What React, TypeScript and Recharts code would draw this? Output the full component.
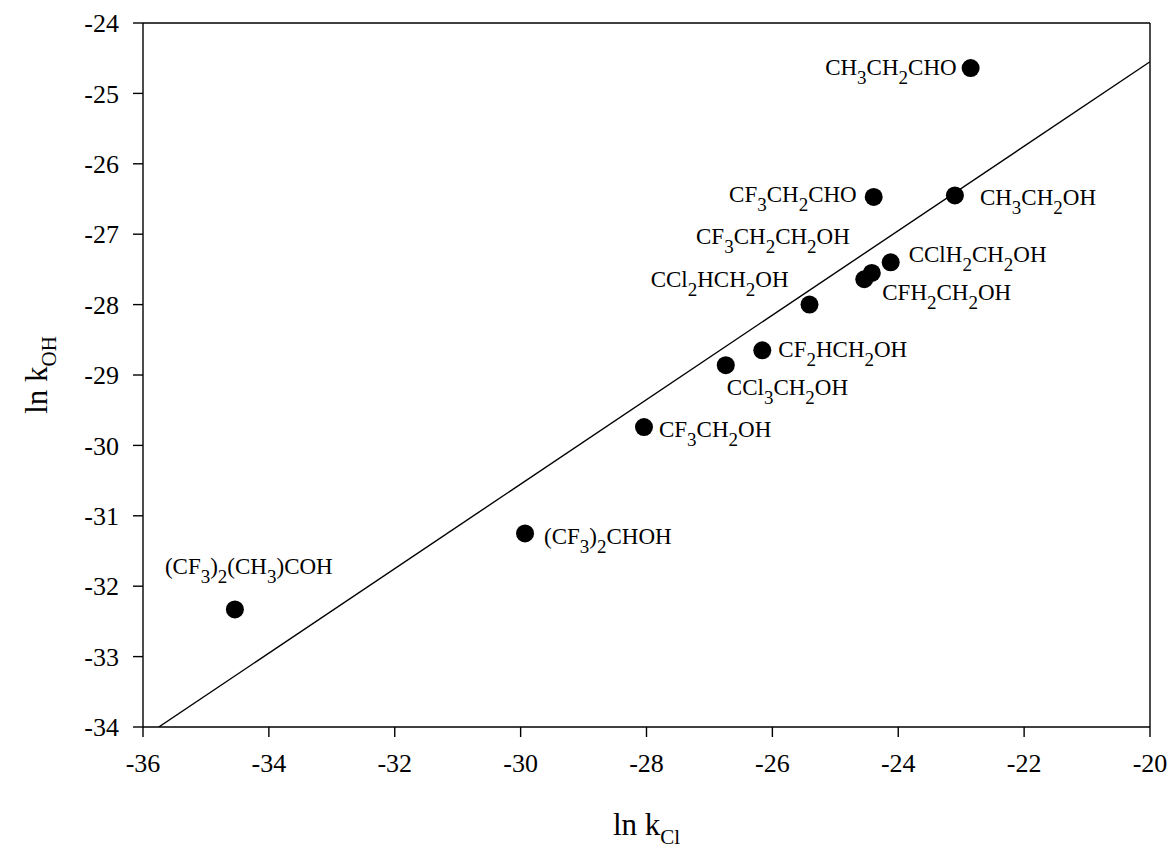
import React from 'react';
import { ScatterChart, Scatter, XAxis, YAxis, ReferenceLine } from 'recharts';

// compounds, "_3" means subscript 3
const compounds = [
  'CH_3CH_2CHO', 'CF_3CH_2CHO', 'CH_3CH_2OH', 'CClH_2CH_2OH', 'CF_3CH_2CH_2OH', 'CFH_2CH_2OH',
  'CCl_2HCH_2OH', 'CF_2HCH_2OH', 'CCl_3CH_2OH', 'CF_3CH_2OH', '(CF_3)_2CHOH', '(CF_3)_2(CH_3)COH',
];
const lnKCl = [-22.85, -24.39, -23.1, -24.12, -24.42, -24.54, -25.41, -26.16, -26.74, -28.04, -29.93, -34.54];
const lnKOH = [-24.64, -26.47, -26.45, -27.4, -27.55, -27.64, -28.0, -28.65, -28.86, -29.74, -31.25, -32.33];

// regression line end points
const fitX = [-35.75, -20];
const fitY = [-34, -24.55];

const xTicks = [-36, -34, -32, -30, -28, -26, -24, -22, -20];
const yTicks = [-34, -33, -32, -31, -30, -29, -28, -27, -26, -25, -24];

// where each label sits relative to its point
const labelPlacement: { dx: number; dy: number; anchor: 'start' | 'end' }[] = [
  { dx: -14, dy: 7, anchor: 'end' },
  { dx: -17, dy: 5, anchor: 'end' },
  { dx: 25, dy: 10, anchor: 'start' },
  { dx: 18, dy: 0, anchor: 'start' },
  { dx: -22, dy: -29, anchor: 'end' },
  { dx: 18, dy: 21, anchor: 'start' },
  { dx: -21, dy: -18, anchor: 'end' },
  { dx: 16, dy: 7, anchor: 'start' },
  { dx: 1, dy: 30, anchor: 'start' },
  { dx: 15, dy: 10, anchor: 'start' },
  { dx: 19, dy: 11, anchor: 'start' },
  { dx: -70, dy: -35, anchor: 'start' },
];

const points = compounds.map((name, i) => ({ name, idx: i, x: lnKCl[i], y: lnKOH[i] }));
const fitData = fitX.map((x, i) => ({ x, y: fitY[i] }));

const FONT = '"Liberation Serif", "Times New Roman", serif';

const Formula = ({ text, size, subSize, shift }: { text: string; size: number; subSize: number; shift: number }) => {
  const parts = text.split(/_(\d)/);
  return (
    <>
      {parts.map((p, i) => {
        if (p === '' && i % 2 === 0 && i === parts.length - 1) return null;
        if (i % 2 === 1) {
          return <tspan key={i} dy={shift} fontSize={subSize}>{p}</tspan>;
        }
        return <tspan key={i} dy={i === 0 ? 0 : -shift} fontSize={size}>{p}</tspan>;
      })}
    </>
  );
};

const PointShape = (props: any) => {
  const { cx, cy, payload } = props;
  const place = labelPlacement[payload.idx];
  return (
    <g>
      <circle cx={cx} cy={cy} r={9} fill="#000" />
      <text x={cx + place.dx} y={cy + place.dy} textAnchor={place.anchor} fontFamily={FONT} fontSize={23} fill="#000">
        <Formula text={payload.name} size={23} subSize={19} shift={9} />
      </text>
    </g>
  );
};

const XTitle = (props: any) => {
  const { viewBox } = props;
  const cx = viewBox.x + viewBox.width / 2;
  return (
    <text x={cx} y={835} textAnchor="middle" fontFamily={FONT} fontSize={31} fill="#000">
      <tspan>ln k</tspan>
      <tspan dy={9} fontSize={21}>Cl</tspan>
    </text>
  );
};

const YTitle = (props: any) => {
  const { viewBox } = props;
  const cy = viewBox.y + viewBox.height / 2;
  return (
    <text x={47} y={cy} transform={`rotate(-90, 47, ${cy})`} textAnchor="middle" fontFamily={FONT} fontSize={31} fill="#000">
      <tspan>ln k</tspan>
      <tspan dy={9} fontSize={21}>OH</tspan>
    </text>
  );
};

const tickStyle = { fill: '#000', fontSize: 26, fontFamily: FONT };

export default function App() {
  return (
    <div style={{ position: 'absolute', left: 0, top: 0, background: '#fff' }}>
      <ScatterChart width={1174} height={851} margin={{ top: 23, right: 24, left: 0, bottom: 0 }}>
        <XAxis
          type="number"
          dataKey="x"
          domain={[-36, -20]}
          ticks={xTicks}
          allowDataOverflow
          height={124}
          tickSize={10}
          tickMargin={17}
          tick={tickStyle}
          axisLine={{ stroke: '#000', strokeWidth: 1.4 }}
          tickLine={{ stroke: '#000', strokeWidth: 1.4 }}
          label={{ content: (p: any) => <XTitle {...p} /> }}
        />
        <YAxis
          type="number"
          dataKey="y"
          domain={[-34, -24]}
          ticks={yTicks}
          allowDataOverflow
          width={143}
          tickSize={10}
          tickMargin={14}
          tick={tickStyle}
          axisLine={{ stroke: '#000', strokeWidth: 1.4 }}
          tickLine={{ stroke: '#000', strokeWidth: 1.4 }}
          label={{ content: (p: any) => <YTitle {...p} /> }}
        />
        <ReferenceLine y={-24} stroke="#000" strokeWidth={1.4} />
        <ReferenceLine x={-20} stroke="#000" strokeWidth={1.4} />
        <Scatter
          data={fitData}
          line={{ stroke: '#000', strokeWidth: 1.4 }}
          shape={() => <g />}
          isAnimationActive={false}
        />
        <Scatter data={points} shape={PointShape} isAnimationActive={false} />
      </ScatterChart>
    </div>
  );
}
